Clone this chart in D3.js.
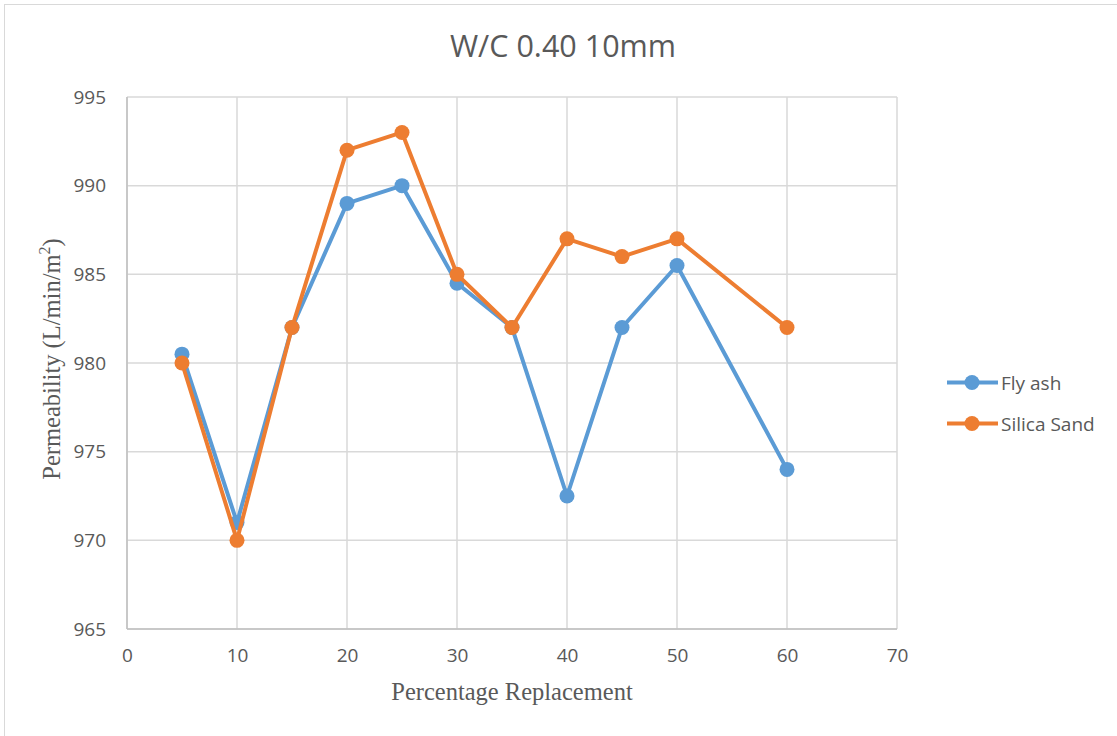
<!DOCTYPE html>
<meta charset="utf-8">
<style>
body { margin:0; background:#fff; }
.tick text { font-family: "Open Sans", sans-serif; font-size:19px; fill:#595959; }
.axis path, .axis line { display:none; }
</style>
<body>
<svg width="1117" height="736" id="vis"></svg>
</body>
<script src="https://d3js.org/d3.v7.min.js"></script>
<script>
var xValues = [5, 10, 15, 20, 25, 30, 35, 40, 45, 50, 60];
var flyAsh = [980.5, 971, 982, 989, 990, 984.5, 982, 972.5, 982, 985.5, 974];
var silicaSand = [980, 970, 982, 992, 993, 985, 982, 987, 986, 987, 982];
var xTicks = [0, 10, 20, 30, 40, 50, 60, 70];
var yTicks = [965, 970, 975, 980, 985, 990, 995];
var seriesNames = ["Fly ash", "Silica Sand"];
var seriesColours = ["#5B9BD5", "#ED7D31"];

var svg = d3.select("svg");
var plotLeft = 127, plotRight = 897, plotTop = 97, plotBottom = 629;

svg.append("rect")
    .attr("x", 4.5).attr("y", 4.5)
    .attr("width", 1130).attr("height", 750)
    .attr("fill", "none").attr("stroke", "#d9d9d9");

var x = d3.scaleLinear().domain([0, 70]).range([plotLeft, plotRight]);
var y = d3.scaleLinear().domain([965, 995]).range([plotBottom, plotTop]);

// gridlines
svg.append("g").selectAll("line").data(yTicks).enter().append("line")
    .attr("x1", plotLeft).attr("x2", plotRight)
    .attr("y1", function(d){return y(d)}).attr("y2", function(d){return y(d)})
    .attr("stroke", "#d9d9d9").attr("stroke-width", 1.5);
svg.append("g").selectAll("line").data(xTicks).enter().append("line")
    .attr("y1", plotTop).attr("y2", plotBottom)
    .attr("x1", function(d){return x(d)}).attr("x2", function(d){return x(d)})
    .attr("stroke", "#d9d9d9").attr("stroke-width", 1.5);

// axis lines
svg.append("line").attr("x1", plotLeft).attr("x2", plotLeft).attr("y1", plotTop).attr("y2", plotBottom)
    .attr("stroke", "#bfbfbf").attr("stroke-width", 1.5);
svg.append("line").attr("x1", plotLeft).attr("x2", plotRight).attr("y1", plotBottom).attr("y2", plotBottom)
    .attr("stroke", "#bfbfbf").attr("stroke-width", 1.5);

svg.append("g").attr("class", "axis")
    .attr("transform", "translate(0," + (plotBottom + 12) + ")")
    .call(d3.axisBottom(x).tickValues(xTicks).tickSize(0).tickPadding(8));
svg.append("g").attr("class", "axis")
    .attr("transform", "translate(" + (plotLeft - 19) + ",0)")
    .call(d3.axisLeft(y).tickValues(yTicks).tickSize(0).tickPadding(2));

svg.append("text")
    .attr("x", 563).attr("y", 57)
    .attr("text-anchor", "middle")
    .style("font-family", "'Open Sans', sans-serif").style("font-size", "30.5px").style("fill", "#595959")
    .text("W/C 0.40 10mm");

svg.append("text")
    .attr("x", 512).attr("y", 700)
    .attr("text-anchor", "middle")
    .style("font-family", "'Liberation Serif', serif").style("font-size", "24.5px").style("fill", "#595959")
    .text("Percentage Replacement");

var yl = svg.append("text")
    .attr("transform", "translate(60,359) rotate(-90)")
    .attr("text-anchor", "middle")
    .style("font-family", "'Liberation Serif', serif").style("font-size", "24.5px").style("fill", "#595959");
yl.append("tspan").text("Permeability (L/min/m");
yl.append("tspan").attr("dy", -10).style("font-size", "16px").text("2");
yl.append("tspan").attr("dy", 10).text(")");

var allSeries = [flyAsh, silicaSand];
var line = d3.line()
    .x(function(d, i){return x(xValues[i])})
    .y(function(d){return y(d)});

allSeries.forEach(function(vals, s) {
  svg.append("path").datum(vals)
    .attr("d", line)
    .attr("fill", "none")
    .attr("stroke", seriesColours[s])
    .attr("stroke-width", 4)
    .attr("stroke-linejoin", "round");
  svg.append("g").selectAll("circle").data(vals).enter().append("circle")
    .attr("cx", function(d, i){return x(xValues[i])})
    .attr("cy", function(d){return y(d)})
    .attr("r", 7.5)
    .attr("fill", seriesColours[s]);
});

// legend
seriesNames.forEach(function(name, s) {
  var ly = 382.5 + s * 41;
  svg.append("line").attr("x1", 947).attr("x2", 998).attr("y1", ly).attr("y2", ly)
    .attr("stroke", seriesColours[s]).attr("stroke-width", 4);
  svg.append("circle").attr("cx", 972).attr("cy", ly).attr("r", 7.5).attr("fill", seriesColours[s]);
  svg.append("text").attr("x", 1001).attr("y", ly + 7)
    .style("font-family", "'Open Sans', sans-serif").style("font-size", "19px").style("fill", "#595959")
    .text(name);
});
</script>
